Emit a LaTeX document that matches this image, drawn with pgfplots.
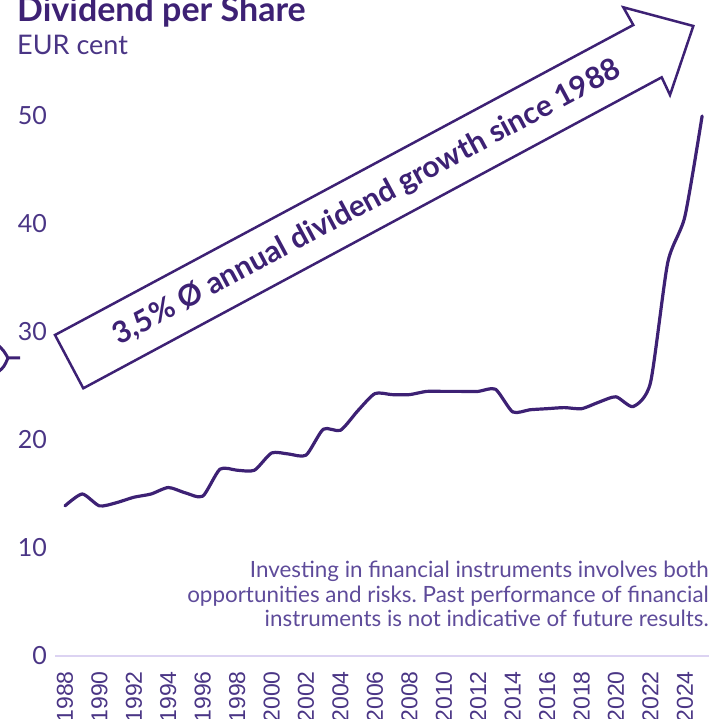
\documentclass[border=0pt]{standalone}
\usepackage{fontspec}
\setmainfont{Lato}
\newfontfamily\arialf{Liberation Sans}
\usepackage{pgfplots}
\pgfplotsset{compat=1.18}
\definecolor{mp}{HTML}{3D2174}
\definecolor{tp}{HTML}{4A3585}
\definecolor{dp}{HTML}{5E4B9A}
\definecolor{axl}{HTML}{DCD3F2}
\frenchspacing
\begin{document}
\begin{tikzpicture}
\useasboundingbox (0,0) rectangle (721bp,719bp);
\begin{axis}[
  at={(55bp,63bp)}, anchor=south west, scale only axis,
  width=654bp, height=594bp,
  xmin=1987.419, xmax=2025.40, ymin=0, ymax=55,
  axis line style={draw=none},
  tick style={draw=none},
  clip=false,
  /pgf/number format/assume math mode=true,
  xtick={1988,1990,1992,1994,1996,1998,2000,2002,2004,2006,2008,2010,2012,2014,2016,2018,2020,2022,2024},
  xticklabels={1988,1990,1992,1994,1996,1998,2000,2002,2004,2006,2008,2010,2012,2014,2016,2018,2020,2022,2024},
  xticklabel style={font=\arialf\fontsize{23bp}{23bp}\selectfont, text=tp, rotate=90, anchor=east, inner sep=0pt},
  xticklabel shift=15bp,
  ytick={0,10,20,30,40,50},
  yticklabel style={font=\fontsize{25bp}{25bp}\selectfont, text=tp, anchor=east, inner sep=0pt},
  yticklabel shift=8bp,
]
\draw[axl, line width=1.6bp] (axis cs:1987.419,0) -- (axis cs:2025.40,0);
\addplot[mp, line width=3.2bp, smooth, tension=0.4, line join=round, line cap=round] coordinates {
(1988,13.9) (1989,15.0) (1990,13.9) (1991,14.2) (1992,14.7) (1993,15.0)
(1994,15.6) (1995,15.1) (1996,14.8) (1997,17.3) (1998,17.2) (1999,17.2)
(2000,18.8) (2001,18.7) (2002,18.6) (2003,21.0) (2004,20.9) (2005,22.7)
(2006,24.3) (2007,24.2) (2008,24.2) (2009,24.5) (2010,24.5) (2011,24.5)
(2012,24.5) (2013,24.7) (2014,22.6) (2015,22.8) (2016,22.9) (2017,23.0)
(2018,22.9) (2019,23.5) (2020,24.0) (2021,23.1) (2022,25.3) (2023,36.4)
(2024,40.7) (2025,50.0)
};
\end{axis}
% title
\node[anchor=base west, inner sep=0pt, text=mp, font=\bfseries\fontsize{34bp}{34bp}\selectfont] at (17bp,697.5bp) {Dividend per Share};
\node[anchor=base west, inner sep=0pt, text=tp, font=\fontsize{27bp}{27bp}\selectfont] at (17bp,664bp) {EUR cent};
% arrow
\draw[mp, line width=2.5bp, line join=miter] (55bp,384bp) -- (633.3bp,694bp) -- (623.3bp,711.7bp) -- (693.3bp,693bp) -- (670bp,624bp) -- (661.7bp,641.7bp) -- (83.3bp,330.7bp) -- cycle;
\node[rotate=28.2, inner sep=0pt, text=mp, font=\bfseries\fontsize{30bp}{30bp}\selectfont] at (367bp,516bp) {3,5\% Ø annual dividend growth since 1988};
% left fragment
\draw[mp, line width=3bp] (-2bp,374bp) .. controls (4bp,368bp) .. (8bp,361bp) -- (20bp,361bp);
\draw[mp, line width=3bp] (8bp,361bp) .. controls (4bp,352bp) .. (-2bp,347bp);
% disclaimer
\node[anchor=base east, inner sep=0pt, text=dp, font=\fontsize{22.4bp}{22.4bp}\selectfont] at (709bp,141bp) {Investing in financial instruments involves both};
\node[anchor=base east, inner sep=0pt, text=dp, font=\fontsize{22.4bp}{22.4bp}\selectfont] at (709bp,116bp) {opportunities and risks. Past performance of financial};
\node[anchor=base east, inner sep=0pt, text=dp, font=\fontsize{22.4bp}{22.4bp}\selectfont] at (709bp,92bp) {instruments is not indicative of future results.};
\end{tikzpicture}
\end{document}
